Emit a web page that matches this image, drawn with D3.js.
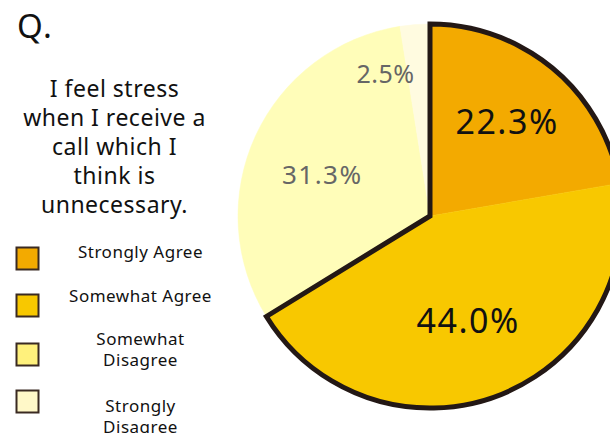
<!DOCTYPE html>
<html>
<head>
<meta charset="utf-8">
<script src="https://cdn.jsdelivr.net/npm/d3@7"></script>
<style>
  html, body { margin: 0; padding: 0; background: #fff; overflow: hidden; }
  svg { display: block; font-family: "Noto Sans", "Noto Sans CJK JP", sans-serif; }
</style>
</head>
<body>
<svg id="chart" width="610" height="433"></svg>
<script>
// Survey answers, in drawing order (clockwise from 12 o'clock)
const categories = ["Strongly Agree", "Somewhat Agree", "Somewhat Disagree", "Strongly Disagree"];
const values = [22.3, 44.0, 31.3, 2.5];
const legendLines = [["Strongly Agree"], ["Somewhat Agree"], ["Somewhat", "Disagree"], ["Strongly", "Disagree"]];
const questionLines = ["I feel stress", "when I receive a", "call which I", "think is", "unnecessary."];

const sliceColors = ["#F3AA00", "#F8C800", "#FFFDB9", "#FFFBE0"];
const swatchColors = ["#F3AA00", "#F8C800", "#FFF17C", "#FFF8C8"];
const labelColors = ["#111", "#111", "#666", "#666"];

const svg = d3.select("#chart");

// Heading
svg.append("text")
  .attr("x", 17).attr("y", 38)
  .attr("font-size", 33).attr("letter-spacing", 1.5).attr("fill", "#111")
  .text("Q.");

// Question text, centred block
svg.append("g").selectAll("text")
  .data(questionLines)
  .join("text")
  .attr("x", 114.5)
  .attr("y", (d, i) => 97 + i * 29)
  .attr("text-anchor", "middle")
  .attr("font-size", 23)
  .attr("letter-spacing", 0.5)
  .attr("fill", "#111")
  .text(d => d);

// Legend
const legendY = [246, 293, 342, 389];
const legendTextY = [[258], [302], [345, 366], [412, 433]];
const legend = svg.append("g");
categories.forEach((c, i) => {
  legend.append("rect")
    .attr("x", 16.5).attr("y", legendY[i] + 1.5)
    .attr("width", 22).attr("height", 22)
    .attr("fill", swatchColors[i])
    .attr("stroke", "#3a2a22").attr("stroke-width", 2);
  legend.append("g").selectAll("text")
    .data(legendLines[i])
    .join("text")
    .attr("x", 140.5)
    .attr("y", (d, j) => legendTextY[i][j])
    .attr("text-anchor", "middle")
    .attr("font-size", 17)
    .attr("letter-spacing", 0.5)
    .attr("fill", "#111")
    .text(d => d);
});

// Pie
const cx = 430, cy = 216, radius = 192;
const pie = d3.pie().sort(null).value(d => d)(values);
const arc = d3.arc().innerRadius(0).outerRadius(radius);
const g = svg.append("g").attr("transform", `translate(${cx},${cy})`);

g.selectAll("path.slice")
  .data(pie)
  .join("path")
  .attr("class", "slice")
  .attr("d", arc)
  .attr("fill", (d, i) => sliceColors[i])
  .attr("stroke", (d, i) => sliceColors[i])
  .attr("stroke-width", 0.5);

// Outline around the two "agree" slices together
g.append("path")
  .attr("d", arc({ startAngle: pie[0].startAngle, endAngle: pie[1].endAngle }))
  .attr("fill", "none")
  .attr("stroke", "#231815")
  .attr("stroke-width", 5)
  .attr("stroke-linejoin", "miter");

// Value labels placed along each slice's mid-angle
const labelRadius = [121, 111, 116, 149];
const labelTurn = [-1, 1, -4, -13].map(a => a * Math.PI / 180);
const labelSize = [34, 34, 26, 25];
const labelSpacing = [1.5, 1.5, 1.5, 0.5];
g.selectAll("text.value")
  .data(pie)
  .join("text")
  .attr("class", "value")
  .attr("transform", (d, i) => {
    const a = (d.startAngle + d.endAngle) / 2 + labelTurn[i];
    return `translate(${labelRadius[i] * Math.sin(a) + labelSpacing[i] / 2},${-labelRadius[i] * Math.cos(a)})`;
  })
  .attr("text-anchor", "middle")
  .attr("dy", "0.36em")
  .attr("font-size", (d, i) => labelSize[i])
  .attr("letter-spacing", (d, i) => labelSpacing[i])
  .attr("fill", (d, i) => labelColors[i])
  .text(d => d.data.toFixed(1) + "%");
</script>
</body>
</html>
